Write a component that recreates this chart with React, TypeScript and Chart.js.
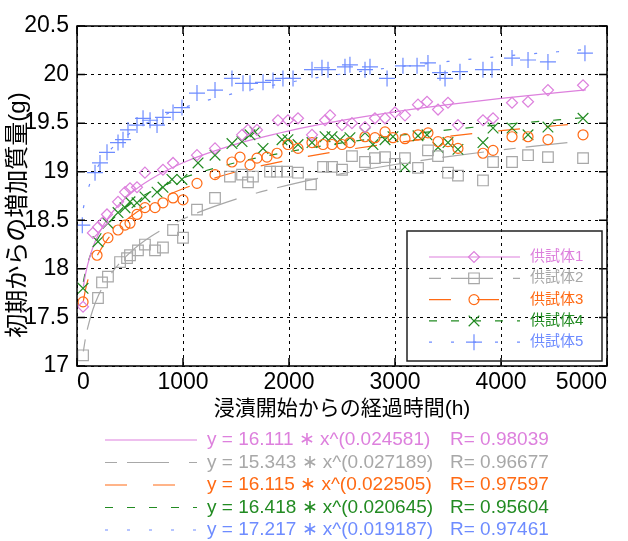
import React, { useEffect, useRef } from "react";
import { Chart, registerables } from "chart.js";
Chart.register(...registerables);

const FONT = '"Liberation Sans", Arial, "Noto Sans CJK JP", sans-serif';

const seriesNames = ["供試体1", "供試体2", "供試体3", "供試体4", "供試体5"];
const seriesColors = ["#dd80dd", "#a8a8a8", "#ff6a14", "#228b22", "#6e8cff"];
const pointStyles = ["rectRot", "rect", "circle", "crossRot", "cross"];
const pointRadii = [5.5, 7.5, 5, 7.5, 8];
const fitDashes: number[][] = [[], [12, 10, 42, 20], [22, 26], [8, 14], [3, 19]];

const equations = [
  "y = 16.111 ∗ x^(0.024581)",
  "y = 15.343 ∗ x^(0.027189)",
  "y = 16.115 ∗ x^(0.022505)",
  "y = 16.418 ∗ x^(0.020645)",
  "y = 17.217 ∗ x^(0.019187)",
];
const rValues = ["R= 0.98039", "R= 0.96677", "R= 0.97597", "R= 0.95604", "R= 0.97461"];

const xTitle = "浸漬開始からの経過時間(h)";
const yTitle = "初期からの増加質量(g)";

// measured points [hours, grams]
const specimen1: [number, number][] = [
  [57, 17.61], [150, 18.37], [198, 18.43], [245, 18.48], [283, 18.56], [387, 18.69], [453, 18.79],
  [500, 18.83], [566, 18.84], [641, 18.99], [811, 19.02], [906, 19.09], [1132, 19.17], [1302, 19.24],
  [1557, 19.38], [1613, 19.43], [1698, 19.43], [1896, 19.53], [1990, 19.53], [2085, 19.55], [2217, 19.38],
  [2340, 19.53], [2387, 19.58], [2500, 19.48], [2594, 19.50], [2717, 19.46], [2811, 19.55], [2906, 19.55],
  [3000, 19.61], [3094, 19.58], [3217, 19.69], [3302, 19.72], [3406, 19.64], [3500, 19.71], [3594, 19.48],
  [3830, 19.53], [3925, 19.55], [4104, 19.71], [4255, 19.72], [4443, 19.84], [4774, 19.89],
];
const specimen2: [number, number][] = [
  [57, 17.11], [198, 17.70], [236, 17.86], [292, 17.92], [406, 18.07], [472, 18.11], [500, 18.14],
  [575, 18.19], [641, 18.25], [736, 18.19], [811, 18.22], [906, 18.40], [1000, 18.32], [1132, 18.61],
  [1302, 18.73], [1443, 18.95], [1557, 18.97], [1613, 18.89], [1660, 18.95], [1821, 19.00], [1887, 19.00],
  [1981, 19.00], [2085, 18.99], [2207, 18.87], [2321, 19.05], [2406, 19.05], [2500, 19.02], [2594, 19.16],
  [2717, 19.10], [2811, 19.14], [2906, 19.15], [3000, 19.08], [3094, 19.14], [3217, 19.04], [3311, 19.22],
  [3406, 19.16], [3500, 18.99], [3594, 18.96], [3830, 18.91], [3925, 19.10], [4104, 19.10], [4255, 19.17],
  [4443, 19.15], [4774, 19.14],
];
const specimen3: [number, number][] = [
  [57, 17.66], [189, 18.14], [292, 18.32], [387, 18.40], [453, 18.45], [500, 18.47], [566, 18.56],
  [641, 18.63], [736, 18.63], [811, 18.68], [906, 18.73], [1000, 18.71], [1132, 18.88], [1302, 18.97],
  [1462, 19.10], [1538, 19.15], [1632, 19.07], [1698, 19.14], [1792, 19.15], [1887, 19.19], [1990, 19.28],
  [2085, 19.24], [2217, 19.30], [2321, 19.28], [2406, 19.28], [2500, 19.28], [2575, 19.30], [2717, 19.36],
  [2811, 19.35], [2906, 19.41], [2981, 19.35], [3094, 19.34], [3217, 19.38], [3311, 19.40], [3406, 19.31],
  [3500, 19.31], [3594, 19.24], [3830, 19.19], [3925, 19.22], [4104, 19.36], [4255, 19.36], [4443, 19.33],
  [4774, 19.38],
];
const specimen4: [number, number][] = [
  [57, 17.80], [198, 18.28], [292, 18.47], [387, 18.58], [453, 18.63], [500, 18.69], [566, 18.68],
  [641, 18.74], [755, 18.79], [811, 18.84], [896, 18.92], [990, 18.92], [1142, 19.09], [1302, 19.17],
  [1462, 19.29], [1557, 19.31], [1632, 19.38], [1679, 19.41], [1755, 19.24], [1934, 19.33], [1990, 19.33],
  [2085, 19.28], [2217, 19.30], [2340, 19.36], [2406, 19.36], [2481, 19.33], [2575, 19.35], [2717, 19.40],
  [2792, 19.28], [2906, 19.33], [2981, 19.36], [3094, 19.05], [3217, 19.37], [3302, 19.38], [3406, 19.25],
  [3500, 19.30], [3594, 19.23], [3830, 19.30], [3925, 19.45], [4104, 19.45], [4255, 19.38], [4443, 19.46],
  [4774, 19.55],
];
const specimen5: [number, number][] = [
  [50, 18.45], [170, 18.99], [217, 19.09], [283, 19.20], [387, 19.30], [434, 19.33], [481, 19.43],
  [566, 19.48], [623, 19.55], [689, 19.53], [755, 19.48], [811, 19.56], [906, 19.61], [990, 19.66],
  [1132, 19.81], [1302, 19.84], [1462, 19.96], [1566, 19.91], [1632, 19.91], [1755, 19.92], [1849, 19.94],
  [1943, 19.96], [2038, 19.96], [2217, 20.05], [2311, 20.07], [2368, 20.05], [2528, 20.08], [2575, 20.10],
  [2717, 20.05], [2764, 20.08], [2925, 19.96], [3075, 20.09], [3208, 20.09], [3311, 20.12], [3425, 20.02],
  [3472, 19.96], [3613, 20.03], [3830, 20.05], [3915, 20.05], [4104, 20.17], [4255, 20.15], [4443, 20.13],
  [4792, 20.22],
];
const specimens = [specimen1, specimen2, specimen3, specimen4, specimen5];

// trend-line values read at these hours
const fitHours = [60, 80, 100, 150, 200, 300, 500, 700, 1000, 1500, 2000, 2500, 3000, 3500, 4000, 4800];
const fit1 = [17.817, 17.943, 18.042, 18.223, 18.352, 18.536, 18.770, 18.926, 19.093, 19.284, 19.421, 19.528, 19.616, 19.690, 19.755, 19.843];
const fit2 = [17.150, 17.285, 17.390, 17.582, 17.721, 17.917, 18.167, 18.335, 18.513, 18.718, 18.865, 18.980, 19.074, 19.155, 19.224, 19.320];
const fit3 = [17.670, 17.785, 17.875, 18.039, 18.156, 18.322, 18.534, 18.675, 18.825, 18.998, 19.121, 19.218, 19.297, 19.364, 19.422, 19.502];
const fit4 = [17.866, 17.973, 18.056, 18.207, 18.316, 18.470, 18.666, 18.796, 18.935, 19.094, 19.207, 19.296, 19.369, 19.431, 19.484, 19.558];
const fit5 = [18.624, 18.727, 18.808, 18.954, 19.059, 19.208, 19.397, 19.523, 19.657, 19.811, 19.920, 20.006, 20.076, 20.135, 20.187, 20.258];
const fits = [fit1, fit2, fit3, fit4, fit5];

function drawMarker(ctx: CanvasRenderingContext2D, style: string, x: number, y: number, r: number) {
  ctx.beginPath();
  const s = r * Math.SQRT1_2;
  switch (style) {
    case "rectRot":
      ctx.moveTo(x - r, y); ctx.lineTo(x, y - r); ctx.lineTo(x + r, y); ctx.lineTo(x, y + r); ctx.closePath();
      break;
    case "rect":
      ctx.rect(x - s, y - s, 2 * s, 2 * s);
      break;
    case "circle":
      ctx.arc(x, y, r, 0, Math.PI * 2);
      break;
    case "crossRot":
      ctx.moveTo(x - s, y - s); ctx.lineTo(x + s, y + s); ctx.moveTo(x - s, y + s); ctx.lineTo(x + s, y - s);
      break;
    case "cross":
      ctx.moveTo(x - r, y); ctx.lineTo(x + r, y); ctx.moveTo(x, y - r); ctx.lineTo(x, y + r);
      break;
  }
  ctx.stroke();
}

const overlayPlugin = {
  id: "overlay",
  afterDraw(chart: any) {
    const { ctx, chartArea: ca, scales } = chart;
    const xs = scales.x, ys = scales.y;
    ctx.save();
    ctx.setLineDash([]);
    ctx.strokeStyle = "#000";
    ctx.lineWidth = 1.5;
    ctx.strokeRect(ca.left, ca.top, ca.right - ca.left, ca.bottom - ca.top);
    const tl = 8;
    ctx.beginPath();
    xs.ticks.forEach((t: any) => {
      const px = xs.getPixelForValue(t.value);
      ctx.moveTo(px, ca.bottom); ctx.lineTo(px, ca.bottom - tl);
      ctx.moveTo(px, ca.top); ctx.lineTo(px, ca.top + tl);
    });
    ys.ticks.forEach((t: any) => {
      const py = ys.getPixelForValue(t.value);
      ctx.moveTo(ca.left, py); ctx.lineTo(ca.left + tl, py);
      ctx.moveTo(ca.right, py); ctx.lineTo(ca.right - tl, py);
    });
    ctx.stroke();

    // y axis title
    ctx.save();
    ctx.translate(18, 215);
    ctx.rotate(-Math.PI / 2);
    ctx.font = `24px ${FONT}`;
    ctx.fillStyle = "#000";
    ctx.textAlign = "center";
    ctx.textBaseline = "middle";
    ctx.fillText(yTitle, 0, 0);
    ctx.restore();

    // legend inside plot
    const bx = ca.left + 330, by = ca.top + 205, bw = ca.right - 5 - bx, bh = ca.bottom - 5 - by;
    ctx.lineWidth = 1.5;
    ctx.strokeStyle = "#222";
    ctx.strokeRect(bx, by, bw, bh);
    ctx.font = `15px ${FONT}`;
    ctx.textBaseline = "middle";
    ctx.textAlign = "left";
    for (let i = 0; i < 5; i++) {
      const y = by + 26 + i * 21.3;
      ctx.strokeStyle = seriesColors[i];
      ctx.lineWidth = 1.2;
      ctx.setLineDash(fitDashes[i]);
      ctx.beginPath(); ctx.moveTo(bx + 22, y); ctx.lineTo(bx + 113, y); ctx.stroke();
      ctx.setLineDash([]);
      drawMarker(ctx, pointStyles[i], bx + 67, y, pointRadii[i]);
      ctx.fillStyle = seriesColors[i];
      ctx.fillText(seriesNames[i], bx + 123, y);
    }

    // equations below the chart
    ctx.font = `19px ${FONT}`;
    for (let i = 0; i < 5; i++) {
      const y = 440 + i * 22.5;
      ctx.strokeStyle = seriesColors[i];
      ctx.lineWidth = 1.2;
      ctx.setLineDash(fitDashes[i]);
      ctx.beginPath(); ctx.moveTo(105, y); ctx.lineTo(197, y); ctx.stroke();
      ctx.setLineDash([]);
      ctx.fillStyle = seriesColors[i];
      ctx.fillText(equations[i], 207, y);
      ctx.fillText(rValues[i], 450, y);
    }
    ctx.restore();
  },
};

export default function App() {
  const ref = useRef<HTMLCanvasElement>(null);
  useEffect(() => {
    document.body.style.margin = "0";
    const datasets: any[] = [];
    for (let i = 0; i < 5; i++) {
      datasets.push({
        label: seriesNames[i],
        data: specimens[i].map(([x, y]) => ({ x, y })),
        showLine: false,
        pointStyle: pointStyles[i],
        pointRadius: pointRadii[i],
        pointBorderWidth: 1.2,
        borderColor: seriesColors[i],
        backgroundColor: "rgba(0,0,0,0)",
      });
    }
    for (let i = 0; i < 5; i++) {
      datasets.push({
        label: seriesNames[i] + " fit",
        data: fitHours.map((x, k) => ({ x, y: fits[i][k] })),
        showLine: true,
        pointRadius: 0,
        borderWidth: 1.2,
        borderColor: seriesColors[i],
        borderDash: fitDashes[i],
        cubicInterpolationMode: "monotone",
        fill: false,
      });
    }
    const chart = new Chart(ref.current!, {
      type: "scatter",
      data: { datasets },
      plugins: [overlayPlugin],
      options: {
        animation: false,
        responsive: false,
        devicePixelRatio: 1,
        layout: { padding: { left: 0, top: 26, right: 21, bottom: 115 } },
        plugins: { legend: { display: false }, tooltip: { enabled: false } },
        scales: {
          x: {
            type: "linear",
            min: 0,
            max: 5000,
            ticks: {
              stepSize: 1000,
              color: "#000",
              font: { family: FONT, size: 23 },
              padding: 3,
              maxRotation: 0,
              align: "inner",
              callback: (v: any) => String(v),
            },
            grid: { color: "#000", lineWidth: 1, drawTicks: false },
            border: { display: false, dash: [3, 4] },
            title: { display: true, text: xTitle, color: "#000", font: { family: FONT, size: 21 } },
            afterFit: (s: any) => { s.height = 60; },
          },
          y: {
            type: "linear",
            min: 17,
            max: 20.5,
            ticks: {
              stepSize: 0.5,
              color: "#000",
              font: { family: FONT, size: 23 },
              padding: 8,
              callback: (v: any) => String(+Number(v).toFixed(1)),
            },
            grid: { color: "#000", lineWidth: 1, drawTicks: false },
            border: { display: false, dash: [3, 4] },
            afterFit: (s: any) => { s.width = 77; },
          },
        },
      } as any,
    });
    return () => chart.destroy();
  }, []);
  return (
    <div style={{ width: 628, height: 541 }}>
      <canvas ref={ref} width={628} height={541} style={{ display: "block", width: 628, height: 541 }} />
    </div>
  );
}
